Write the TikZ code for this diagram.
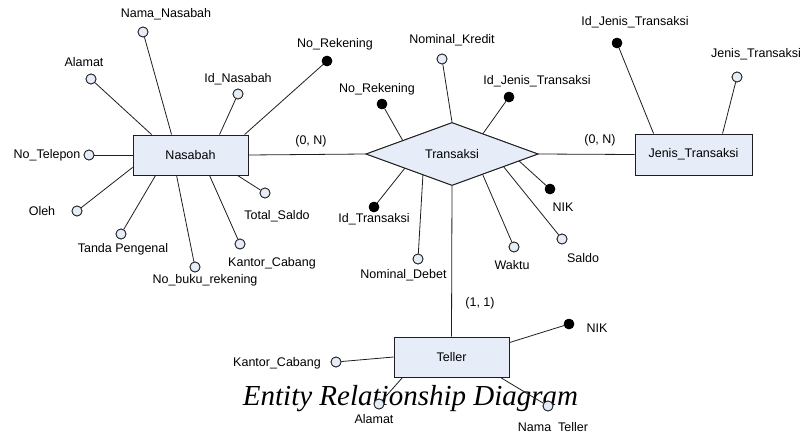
\documentclass[tikz,border=0pt]{standalone}
\usepackage{fontspec}
\setmainfont{Liberation Sans}
\newfontfamily\titlefont{Liberation Serif}
\usetikzlibrary{shapes.geometric}
\definecolor{ent}{RGB}{230,237,248}
\definecolor{lc}{RGB}{30,30,30}
\begin{document}
\begin{tikzpicture}[x=1pt,y=-1pt,
  every node/.style={font=\fontsize{12.5}{14}\selectfont},
  ln/.style={draw=lc, line width=0.8pt},
  entity/.style={draw=lc, line width=0.9pt, fill=ent, minimum width=115pt, minimum height=40pt, inner sep=0pt},
  rel/.style={diamond, draw=lc, line width=0.9pt, fill=ent, minimum width=172pt, minimum height=59pt, inner sep=0pt},
  attr/.style={circle, draw=lc, line width=0.8pt, fill=ent, minimum size=10pt, inner sep=0pt},
  key/.style={circle, draw=black, fill=black, minimum size=10pt, inner sep=0pt},
  lbl/.style={inner sep=0pt}]
\useasboundingbox (0,0) rectangle (802,431);

% title (behind everything)
\node[anchor=base, inner sep=0pt, font=\titlefont\itshape\fontsize{29}{32}\selectfont] (title) at (410.5,405) {Entity Relationship Diagram};

% main shapes (positions)
\node[entity, minimum width=115pt] (nas) at (190.5,155) {Nasabah};
\node[rel] (tr) at (452,154) {Transaksi};
\node[entity, minimum width=117pt, minimum height=41pt] (jt) at (693.5,154.5) {Jenis\_Transaksi};
\node[entity] (tel) at (451.5,357) {Teller};

% attribute circles
% Nasabah
\node[attr] (nNama) at (143,32) {};
\node[attr] (nAlamat) at (91,79) {};
\node[attr] (nId) at (238,94) {};
\node[key]  (nRek) at (327,61) {};
\node[attr] (nTelp) at (89,155) {};
\node[attr] (nOleh) at (77,211) {};
\node[attr] (nTanda) at (121,234) {};
\node[attr] (nBuku) at (195,267) {};
\node[attr] (nKantor) at (240,244) {};
\node[attr] (nTotal) at (265,193) {};
% Transaksi
\node[attr] (tKredit) at (442,59) {};
\node[key]  (tRek) at (382,104) {};
\node[key]  (tJenis) at (509,97) {};
\node[key]  (tId) at (374,207) {};
\node[attr] (tDebet) at (418,259) {};
\node[attr] (tWaktu) at (514,247) {};
\node[attr] (tSaldo) at (562,239) {};
\node[key]  (tNik) at (550,189) {};
% Jenis_Transaksi
\node[key]  (jId) at (617,43) {};
\node[attr] (jJenis) at (737,77) {};
% Teller
\node[key]  (eNik) at (569,324) {};
\node[attr] (eKantor) at (336,362) {};
\node[attr] (eAlamat) at (379,404) {};
\node[attr] (eNama) at (548,406) {};

% labels
\node[lbl] (lnNama) at (166,14) {Nama\_Nasabah};
\node[lbl] (lnAlamat) at (84,62) {Alamat};
\node[lbl] (lnId) at (238,79) {Id\_Nasabah};
\node[lbl] (lnRek) at (335,44) {No\_Rekening};
\node[lbl] (lnTelp) at (47,155) {No\_Telepon};
\node[lbl] (lnOleh) at (42,211) {Oleh};
\node[lbl] (lnTanda) at (123,249) {Tanda Pengenal};
\node[lbl] (lnBuku) at (205,280) {No\_buku\_rekening};
\node[lbl] (lnKantor) at (272,263) {Kantor\_Cabang};
\node[lbl] (lnTotal) at (277,216) {Total\_Saldo};
\node[lbl] (ltKredit) at (452,40) {Nominal\_Kredit};
\node[lbl] (ltRek) at (377,89) {No\_Rekening};
\node[lbl] (ltJenis) at (537,81) {Id\_Jenis\_Transaksi};
\node[lbl] (ltId) at (374,219) {Id\_Transaksi};
\node[lbl] (ltDebet) at (403.5,275) {Nominal\_Debet};
\node[lbl] (ltWaktu) at (512,265) {Waktu};
\node[lbl] (ltSaldo) at (583,258) {Saldo};
\node[lbl] (ltNik) at (563,207) {NIK};
\node[lbl] (ljId) at (635,22) {Id\_Jenis\_Transaksi};
\node[lbl] (ljJenis) at (756,54) {Jenis\_Transaksi};
\node[lbl] (leNik) at (597,328) {NIK};
\node[lbl] (leKantor) at (277,363) {Kantor\_Cabang};
\node[lbl] (leAlamat) at (374,419) {Alamat};
\node[lbl] (leNama) at (553,428) {Nama\_Teller};
\node[lbl] (c1) at (311,141) {(0, N)};
\node[lbl] (c2) at (600,140) {(0, N)};
\node[lbl] (c3) at (480,303) {(1, 1)};

% relationship lines
\draw[ln] (nas.east) -- (tr.west);
\draw[ln] (tr.east) -- (jt.west);
\draw[ln] (tr.south) -- (tel.north);

% Nasabah attributes
\draw[ln] (nNama) -- ([xshift=39pt]nas.north west);
\draw[ln] (nAlamat) -- ([xshift=19pt]nas.north west);
\draw[ln] (nId) -- ([xshift=87pt]nas.north west);
\draw[ln] (nRek) -- ([xshift=112pt]nas.north west);
\draw[ln] (nTelp) -- (nas.west);
\draw[ln] (nOleh) -- ([yshift=8pt]nas.south west);
\draw[ln] (nTanda) -- ([xshift=23pt]nas.south west);
\draw[ln] (nBuku) -- ([xshift=44pt]nas.south west);
\draw[ln] (nKantor) -- ([xshift=77pt]nas.south west);
\draw[ln] (nTotal) -- ([xshift=105pt]nas.south west);

% Transaksi attributes
\draw[ln] (tKredit) -- (tr.north);
\draw[ln] (tRek) -- ([shift={(-49,-13)}]tr.center);
\draw[ln] (tJenis) -- ([shift={(30,-19)}]tr.center);
\draw[ln] (tId) -- ([shift={(-47,14)}]tr.center);
\draw[ln] (tDebet) -- ([shift={(-29,19.5)}]tr.center);
\draw[ln] (tWaktu) -- ([shift={(30,19)}]tr.center);
\draw[ln] (tSaldo) -- ([shift={(51,12)}]tr.center);
\draw[ln] (tNik) -- ([shift={(66,6)}]tr.center);

% Jenis_Transaksi attributes
\draw[ln] (jId) -- ([xshift=19pt]jt.north west);
\draw[ln] (jJenis) -- ([xshift=88pt]jt.north west);

% Teller attributes
\draw[ln] (eNik) -- ([yshift=-6pt]tel.north east);
\draw[ln] (eKantor) -- (tel.west);
\draw[ln] (eAlamat) -- ([xshift=9pt]tel.south west);
\draw[ln] (eNama) -- ([xshift=-9pt]tel.south east);

% redraw shapes on top of lines
\node[entity, minimum width=115pt] at (nas) {Nasabah};
\node[rel] at (tr) {Transaksi};
\node[entity, minimum width=117pt, minimum height=41pt] at (jt) {Jenis\_Transaksi};
\node[entity] at (tel) {Teller};
\foreach \n in {nNama,nAlamat,nId,nTelp,nOleh,nTanda,nBuku,nKantor,nTotal,tKredit,tDebet,tWaktu,tSaldo,jJenis,eKantor,eAlamat,eNama}
  \node[attr] at (\n) {};
\foreach \n in {nRek,tRek,tJenis,tId,tNik,jId,eNik}
  \node[key] at (\n) {};
\end{tikzpicture}
\end{document}
